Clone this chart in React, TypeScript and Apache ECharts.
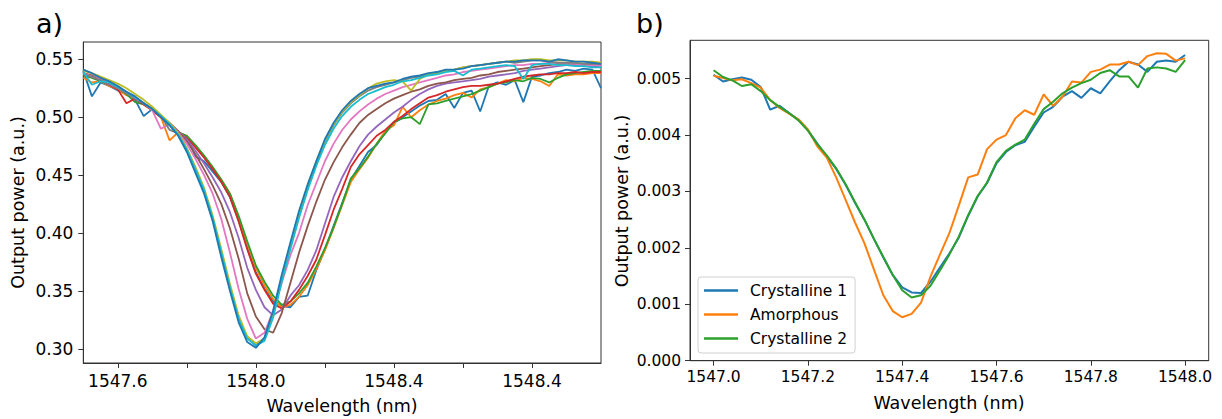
import React, { useEffect, useRef } from "react";
import * as echarts from "echarts";

const FONT = '"DejaVu Sans", "Liberation Sans", sans-serif';
const TAB10 = ["#1f77b4", "#ff7f0e", "#2ca02c", "#d62728", "#9467bd", "#8c564b", "#e377c2", "#7f7f7f", "#bcbd22", "#17becf", "#1f77b4"];

// ---------- panel a) ----------
const WL_A = [
  1547.500, 1547.525, 1547.550, 1547.575, 1547.600, 1547.625, 1547.650, 1547.675, 1547.700, 1547.725,
  1547.750, 1547.775, 1547.800, 1547.825, 1547.850, 1547.875, 1547.900, 1547.925, 1547.950, 1547.975,
  1548.000, 1548.025, 1548.050, 1548.075, 1548.100, 1548.125, 1548.150, 1548.175, 1548.200, 1548.225,
  1548.250, 1548.275, 1548.300, 1548.325, 1548.350, 1548.375, 1548.400, 1548.425, 1548.450, 1548.475,
  1548.500, 1548.525, 1548.550, 1548.575, 1548.600, 1548.625, 1548.650, 1548.675, 1548.700, 1548.725,
  1548.750, 1548.775, 1548.800, 1548.825, 1548.850, 1548.875, 1548.900, 1548.925, 1548.950, 1548.975,
  1549.000,
];

const A_BLUE1 = [
  0.540, 0.518, 0.530, 0.527, 0.523, 0.520, 0.515, 0.501, 0.507, 0.501, 0.494, 0.486,
  0.483, 0.466, 0.462, 0.453, 0.444, 0.431, 0.411, 0.387,
  0.366, 0.352, 0.341, 0.337, 0.336, 0.345, 0.346, 0.368, 0.386, 0.406, 0.426, 0.446, 0.458, 0.470, 0.476,
  0.487, 0.495, 0.500, 0.505, 0.510, 0.514, 0.515, 0.520, 0.508, 0.521, 0.523, 0.505, 0.527, 0.530, 0.528,
  0.532, 0.513, 0.535, 0.536, 0.538, 0.539, 0.541, 0.540, 0.542, 0.541, 0.525,
];
const A_ORANGE = [
  0.534, 0.530, 0.531, 0.527, 0.524, 0.519, 0.516, 0.511, 0.506, 0.500, 0.480, 0.487,
  0.484, 0.475, 0.466, 0.456, 0.446, 0.434, 0.414, 0.391,
  0.370, 0.355, 0.343, 0.336, 0.338, 0.345, 0.355, 0.369, 0.385, 0.404, 0.424, 0.444, 0.455, 0.465, 0.477,
  0.488, 0.493, 0.509, 0.500, 0.506, 0.511, 0.514, 0.516, 0.519, 0.521, 0.517, 0.524, 0.526, 0.529, 0.532,
  0.531, 0.534, 0.533, 0.531, 0.527, 0.537, 0.536, 0.537, 0.537, 0.538, 0.538,
];
const A_GREEN = [
  0.536, 0.534, 0.531, 0.528, 0.525, 0.520, 0.513, 0.511, 0.506, 0.500, 0.494, 0.487,
  0.484, 0.476, 0.467, 0.457, 0.446, 0.434, 0.415, 0.393,
  0.372, 0.358, 0.346, 0.338, 0.341, 0.348, 0.357, 0.371, 0.387, 0.405, 0.425, 0.447, 0.456, 0.466, 0.477,
  0.486, 0.496, 0.499, 0.500, 0.494, 0.511, 0.512, 0.514, 0.516, 0.518, 0.520, 0.523, 0.526, 0.529, 0.530,
  0.532, 0.531, 0.534, 0.533, 0.530, 0.534, 0.537, 0.538, 0.539, 0.540, 0.540,
];
const A_RED = [
  0.537, 0.535, 0.532, 0.528, 0.524, 0.512, 0.516, 0.511, 0.506, 0.500, 0.494, 0.487,
  0.482, 0.474, 0.465, 0.455, 0.444, 0.431, 0.410, 0.386,
  0.365, 0.351, 0.339, 0.335, 0.341, 0.351, 0.363, 0.377, 0.398, 0.420, 0.438, 0.457, 0.468, 0.476, 0.484,
  0.489, 0.496, 0.501, 0.507, 0.512, 0.517, 0.519, 0.522, 0.524, 0.526, 0.527, 0.527, 0.528, 0.529, 0.531,
  0.533, 0.535, 0.536, 0.537, 0.537, 0.538, 0.538, 0.539, 0.538, 0.539, 0.539,
];
const A_PURPLE = [
  0.538, 0.535, 0.532, 0.528, 0.525, 0.521, 0.516, 0.512, 0.507, 0.501, 0.494, 0.488,
  0.481, 0.471, 0.460, 0.448, 0.435, 0.418, 0.396, 0.370,
  0.351, 0.336, 0.329, 0.334, 0.346, 0.355, 0.368, 0.385, 0.408, 0.431, 0.448, 0.462, 0.475, 0.485, 0.492,
  0.498, 0.504, 0.509, 0.515, 0.520, 0.524, 0.527, 0.529, 0.530, 0.531, 0.532, 0.533, 0.535, 0.536, 0.537,
  0.538, 0.540, 0.541, 0.542, 0.543, 0.544, 0.545, 0.545, 0.544, 0.544, 0.543,
];
const A_BROWN = [
  0.538, 0.536, 0.533, 0.529, 0.525, 0.521, 0.517, 0.512, 0.507, 0.501, 0.495, 0.488,
  0.479, 0.468, 0.455, 0.441, 0.425, 0.404, 0.378, 0.348,
  0.328, 0.317, 0.314, 0.331, 0.357, 0.383, 0.406, 0.427, 0.446, 0.461, 0.474, 0.485, 0.495, 0.502, 0.507,
  0.512, 0.516, 0.519, 0.522, 0.524, 0.527, 0.529, 0.530, 0.532, 0.533, 0.534, 0.536, 0.537, 0.539, 0.540,
  0.541, 0.542, 0.543, 0.544, 0.545, 0.546, 0.546, 0.546, 0.546, 0.545, 0.545,
];
const A_PINK = [
  0.538, 0.535, 0.533, 0.529, 0.525, 0.521, 0.517, 0.512, 0.506, 0.490, 0.494, 0.487,
  0.477, 0.464, 0.450, 0.434, 0.412, 0.383, 0.352, 0.326,
  0.309, 0.314, 0.333, 0.357, 0.381, 0.400, 0.424, 0.443, 0.462, 0.477, 0.489, 0.498, 0.505, 0.511, 0.516,
  0.520, 0.523, 0.526, 0.528, 0.530, 0.532, 0.534, 0.536, 0.537, 0.539, 0.540, 0.541, 0.542, 0.543, 0.544,
  0.545, 0.545, 0.546, 0.546, 0.547, 0.547, 0.546, 0.546, 0.545, 0.545, 0.545,
];
const A_GRAY = [
  0.537, 0.535, 0.532, 0.529, 0.525, 0.521, 0.517, 0.512, 0.507, 0.501, 0.489, 0.486,
  0.473, 0.456, 0.437, 0.413, 0.384, 0.354, 0.327, 0.310,
  0.303, 0.309, 0.330, 0.361, 0.389, 0.416, 0.440, 0.460, 0.479, 0.493, 0.504, 0.512, 0.518, 0.523, 0.526,
  0.528, 0.530, 0.532, 0.534, 0.535, 0.537, 0.539, 0.540, 0.541, 0.543, 0.544, 0.545, 0.546, 0.547, 0.548,
  0.547, 0.548, 0.549, 0.549, 0.548, 0.547, 0.547, 0.547, 0.546, 0.546, 0.546,
];
const A_OLIVE = [
  0.540, 0.538, 0.535, 0.532, 0.529, 0.525, 0.520, 0.515, 0.509, 0.502, 0.495, 0.486,
  0.473, 0.457, 0.439, 0.415, 0.386, 0.356, 0.329, 0.311,
  0.305, 0.309, 0.329, 0.360, 0.389, 0.416, 0.441, 0.462, 0.480, 0.494, 0.505, 0.513, 0.519, 0.525, 0.529,
  0.531, 0.532, 0.531, 0.523, 0.533, 0.537, 0.538, 0.540, 0.541, 0.543, 0.544, 0.545, 0.546, 0.547, 0.548,
  0.549, 0.549, 0.550, 0.550, 0.549, 0.549, 0.549, 0.548, 0.548, 0.548, 0.547,
];
const A_CYAN = [
  0.539, 0.528, 0.531, 0.530, 0.526, 0.522, 0.517, 0.512, 0.507, 0.501, 0.494, 0.485,
  0.472, 0.455, 0.437, 0.413, 0.383, 0.353, 0.326, 0.309,
  0.303, 0.307, 0.327, 0.358, 0.386, 0.413, 0.437, 0.458, 0.476, 0.490, 0.501, 0.509, 0.515, 0.520, 0.523,
  0.526, 0.528, 0.531, 0.532, 0.534, 0.536, 0.537, 0.539, 0.540, 0.536, 0.541, 0.542, 0.543, 0.544, 0.545,
  0.544, 0.533, 0.545, 0.546, 0.546, 0.545, 0.545, 0.544, 0.544, 0.543, 0.543,
];
const A_BLUE2 = [
  0.541, 0.538, 0.534, 0.531, 0.527, 0.522, 0.518, 0.512, 0.507, 0.500, 0.493, 0.484,
  0.470, 0.452, 0.434, 0.410, 0.379, 0.350, 0.323, 0.306,
  0.301, 0.310, 0.333, 0.364, 0.392, 0.419, 0.442, 0.462, 0.481, 0.495, 0.506, 0.514, 0.520, 0.525, 0.527,
  0.529, 0.530, 0.533, 0.535, 0.536, 0.538, 0.539, 0.541, 0.541, 0.542, 0.544, 0.545, 0.546, 0.547, 0.548,
  0.548, 0.549, 0.549, 0.549, 0.548, 0.550, 0.549, 0.548, 0.548, 0.547, 0.546,
];
const A_SERIES = [A_BLUE1, A_ORANGE, A_GREEN, A_RED, A_PURPLE, A_BROWN, A_PINK, A_GRAY, A_OLIVE, A_CYAN, A_BLUE2];

const A_X_TICKS = [1547.6, 1547.8, 1548.0, 1548.2, 1548.4, 1548.6, 1548.8];
const A_X_LABEL_VALUES = [1547.6, 1548.0, 1548.4, 1548.8];
const A_X_LABELS = ["1547.6", "1548.0", "1548.4", "1548.4"];
const A_Y_TICKS = [0.30, 0.35, 0.40, 0.45, 0.50, 0.55];

// ---------- panel b) ----------
const WL_B = [
  1547.00, 1547.02, 1547.04, 1547.06, 1547.08, 1547.10, 1547.12, 1547.14, 1547.16, 1547.18,
  1547.20, 1547.22, 1547.24, 1547.26, 1547.28, 1547.30, 1547.32, 1547.34, 1547.36, 1547.38,
  1547.40, 1547.42, 1547.44, 1547.46, 1547.48, 1547.50, 1547.52, 1547.54, 1547.56, 1547.58,
  1547.60, 1547.62, 1547.64, 1547.66, 1547.68, 1547.70, 1547.72, 1547.74, 1547.76, 1547.78,
  1547.80, 1547.82, 1547.84, 1547.86, 1547.88, 1547.90, 1547.92, 1547.94, 1547.96, 1547.98,
  1548.00,
];
const B_NAMES = ["Crystalline 1", "Amorphous", "Crystalline 2"];
const B_CRYS1 = [
  0.00507, 0.00495, 0.00499, 0.00502, 0.00498, 0.00485, 0.00445, 0.00452, 0.00439, 0.00427,
  0.00409, 0.00385, 0.00362, 0.00340, 0.00312, 0.00280, 0.00250, 0.00216, 0.00183, 0.00152,
  0.00130, 0.00121, 0.00120, 0.00140, 0.00165, 0.00190, 0.00218, 0.00257, 0.00291, 0.00315,
  0.00350, 0.00370, 0.00382, 0.00388, 0.00415, 0.00440, 0.00450, 0.00468, 0.00478, 0.00466,
  0.00483, 0.00474, 0.00495, 0.00515, 0.00530, 0.00525, 0.00512, 0.00530, 0.00532, 0.00530,
  0.00542,
];
const B_AMORPH = [
  0.00505, 0.00501, 0.00497, 0.00499, 0.00492, 0.00484, 0.00462, 0.00448, 0.00438, 0.00428,
  0.00410, 0.00380, 0.00360, 0.00325, 0.00285, 0.00245, 0.00208, 0.00162, 0.00116, 0.00088,
  0.00077, 0.00083, 0.00103, 0.00149, 0.00188, 0.00226, 0.00275, 0.00325, 0.00330, 0.00375,
  0.00392, 0.00400, 0.00430, 0.00444, 0.00436, 0.00472, 0.00452, 0.00468, 0.00495, 0.00493,
  0.00512, 0.00516, 0.00525, 0.00525, 0.00530, 0.00524, 0.00540, 0.00545, 0.00544, 0.00532,
  0.00536,
];
const B_CRYS2 = [
  0.00515, 0.00503, 0.00497, 0.00487, 0.00490, 0.00478, 0.00462, 0.00450, 0.00439, 0.00426,
  0.00408, 0.00384, 0.00364, 0.00341, 0.00313, 0.00281, 0.00250, 0.00216, 0.00184, 0.00152,
  0.00125, 0.00112, 0.00116, 0.00133, 0.00160, 0.00188, 0.00220, 0.00258, 0.00292, 0.00316,
  0.00352, 0.00372, 0.00383, 0.00392, 0.00420, 0.00446, 0.00459, 0.00474, 0.00484, 0.00492,
  0.00498, 0.00510, 0.00515, 0.00504, 0.00504, 0.00484, 0.00518, 0.00520, 0.00518, 0.00512,
  0.00533,
];
const B_SERIES = [B_CRYS1, B_AMORPH, B_CRYS2];
const B_X_TICKS = [1547.0, 1547.2, 1547.4, 1547.6, 1547.8, 1548.0];
const B_Y_TICKS = [0.000, 0.001, 0.002, 0.003, 0.004, 0.005];

const AX = "#333";

export default function App() {
  const ref = useRef<HTMLDivElement>(null);
  useEffect(() => {
    if (!ref.current) return;
    const chart = echarts.init(ref.current, undefined, { renderer: "svg" });

    const tickStyle = { show: true, length: 5, lineStyle: { color: AX, width: 1 } };
    const common = {
      type: "value" as const,
      splitLine: { show: false },
      axisLine: { show: true, onZero: false, lineStyle: { color: AX, width: 1 } },
    };

    const seriesA = A_SERIES.map((vals, i) => ({
      type: "line",
      name: "run" + (i + 1),
      xAxisIndex: 0,
      yAxisIndex: 0,
      data: WL_A.map((w, j) => [w, vals[j]]),
      showSymbol: false,
      symbol: "none",
      lineStyle: { color: TAB10[i], width: 1.8 },
      itemStyle: { color: TAB10[i] },
      z: 2 + i,
    }));
    const seriesB = B_SERIES.map((vals, i) => ({
      type: "line",
      name: B_NAMES[i],
      xAxisIndex: 1,
      yAxisIndex: 1,
      data: WL_B.map((w, j) => [w, vals[j]]),
      showSymbol: false,
      symbol: "none",
      lineStyle: { color: TAB10[i], width: 2 },
      itemStyle: { color: TAB10[i] },
      z: 2 + i,
    }));

    const t = (text: string, x: number, y: number, size: number, rot = 0, align = "center") => ({
      type: "text",
      x,
      y,
      rotation: rot,
      style: {
        text,
        fontSize: size,
        fontFamily: FONT,
        fill: "#000",
        align,
        textAlign: align,
        verticalAlign: "middle",
        textVerticalAlign: "middle",
      },
      z: 100,
    });

    const baseGraphics = [
      t("a)", 36, 23, 27, 0, "left"),
      t("b)", 636, 23, 27, 0, "left"),
      t("Output power (a.u.)", 17.5, 202.5, 17.5, Math.PI / 2),
      t("Output power (a.u.)", 621.5, 201, 17.5, Math.PI / 2),
      t("Wavelength (nm)", 342, 406, 17.5),
      t("Wavelength (nm)", 949, 403, 17.5),
    ];

    chart.setOption({
      animation: false,
      backgroundColor: "#fff",
      grid: [
        { left: 83.3, top: 42, width: 517.7, height: 321, show: true, borderColor: AX, borderWidth: 1, backgroundColor: "transparent" },
        { left: 690, top: 40.3, width: 518.7, height: 320.4, show: true, borderColor: AX, borderWidth: 1, backgroundColor: "transparent" },
      ],
      xAxis: [
        {
          ...common,
          gridIndex: 0,
          min: 1547.5,
          max: 1549.0,
          axisTick: { ...tickStyle, customValues: A_X_TICKS },
          axisLabel: { show: false },
        },
        {
          ...common,
          gridIndex: 1,
          min: 1546.95,
          max: 1548.05,
          axisTick: { ...tickStyle, customValues: B_X_TICKS },
          axisLabel: {
            show: true,
            color: "#000",
            fontSize: 15.5,
            fontFamily: FONT,
            margin: 8,
            customValues: B_X_TICKS,
            formatter: (v: number) => v.toFixed(1),
          },
        },
      ],
      yAxis: [
        {
          ...common,
          gridIndex: 0,
          min: 0.2879,
          max: 0.5649,
          axisTick: { ...tickStyle, customValues: A_Y_TICKS },
          axisLabel: {
            show: true,
            color: "#000",
            fontSize: 17,
            fontFamily: FONT,
            margin: 10,
            customValues: A_Y_TICKS,
            formatter: (v: number) => v.toFixed(2),
          },
        },
        {
          ...common,
          gridIndex: 1,
          min: 0,
          max: 0.00568,
          axisTick: { ...tickStyle, customValues: B_Y_TICKS },
          axisLabel: {
            show: true,
            color: "#000",
            fontSize: 15.5,
            fontFamily: FONT,
            margin: 9,
            customValues: B_Y_TICKS,
            formatter: (v: number) => v.toFixed(3),
          },
        },
      ],
      legend: {
        data: B_NAMES,
        orient: "vertical",
        left: 698,
        top: 277,
        icon: "rect",
        itemWidth: 34,
        itemHeight: 2.5,
        itemGap: 7,
        selectedMode: false,
        padding: [5, 8, 6, 6],
        backgroundColor: "rgba(255,255,255,0.8)",
        borderColor: "#d0d0d0",
        borderWidth: 1,
        borderRadius: 3,
        textStyle: { fontSize: 15.5, fontFamily: FONT, color: "#000", lineHeight: 17, padding: [0, 0, 0, 7] },
      },
      graphic: baseGraphics,
      series: [...seriesA, ...seriesB],
    });

    // x tick labels of panel a), placed through the axis scale
    const labelGraphics = A_X_LABEL_VALUES.map((v, k) => {
      const px = chart.convertToPixel({ xAxisIndex: 0 }, v) as number;
      return t(A_X_LABELS[k], px, 380.5, 17);
    });
    chart.setOption({ graphic: [...baseGraphics, ...labelGraphics] });

    return () => chart.dispose();
  }, []);

  return (
    <div
      ref={ref}
      style={{ position: "absolute", left: 0, top: 0, width: 1222, height: 419, background: "#fff" }}
    />
  );
}
